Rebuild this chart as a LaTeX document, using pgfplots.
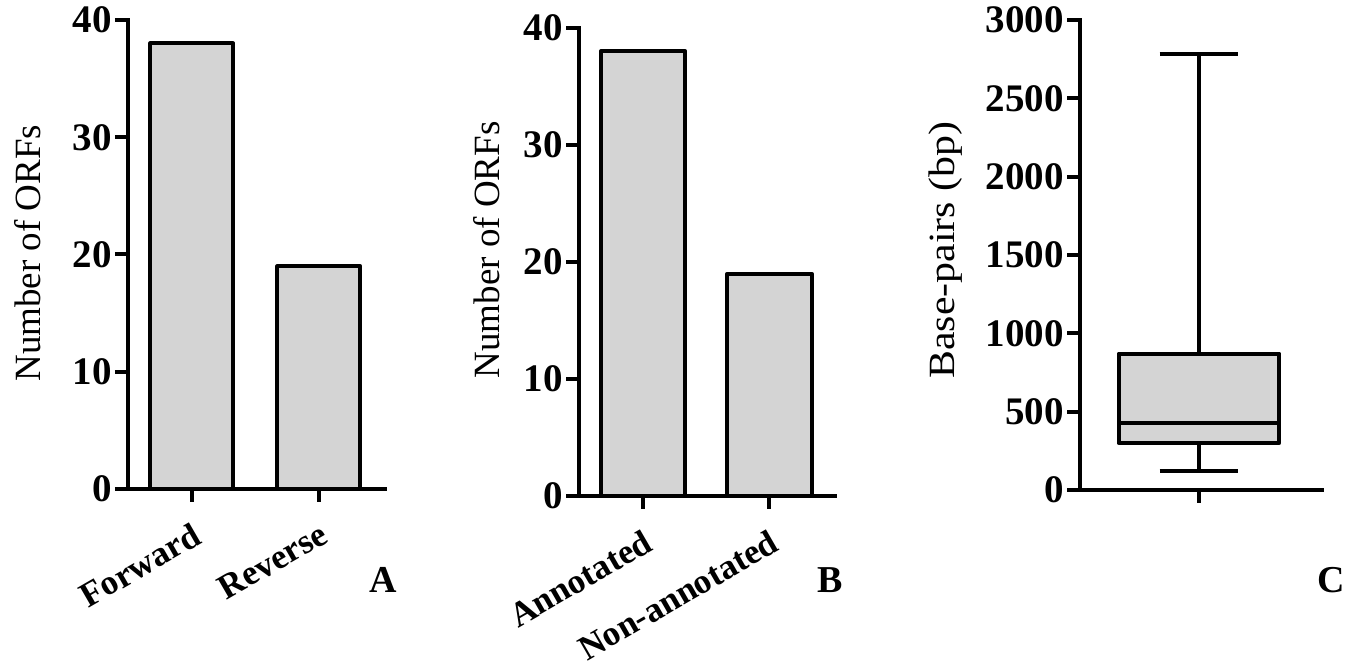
\documentclass[border=0pt]{standalone}
\usepackage{pgfplots}
\pgfplotsset{compat=1.18}
\usepackage{fontspec}
\setmainfont{Liberation Serif}
\definecolor{barfill}{RGB}{212,212,212}
\pgfplotsset{
  panel/.style={
    scale only axis, clip=false,
    axis x line*=bottom, axis y line*=left,
    axis line style={line width=2pt, line cap=rect},
    tick style={line width=2pt, black},
    tick align=outside, major tick length=6.5pt,
    /pgf/number format/assume math mode=true,
    /pgf/number format/1000 sep={},
    scaled ticks=false,
    yticklabel style={font=\bfseries\fontsize{19.5}{19.5}\selectfont, inner sep=1.5pt},
    xticklabel style={font=\bfseries\fontsize{17.5}{17.5}\selectfont, rotate=30, anchor=north east, inner sep=2pt, xshift=-3pt, yshift=-6pt},
    ylabel style={font=\fontsize{18.5}{18.5}\selectfont, anchor=center, rotate=0},
  }
}
\begin{document}
\begin{tikzpicture}
\useasboundingbox (0,0) rectangle (677.5pt,334pt);
% Panel A
\begin{axis}[panel, at={(64pt,89.5pt)}, anchor=south west, width=128.5pt, height=234.5pt,
  xmin=-0.5, xmax=1.52, ymin=0, ymax=40, ytick={0,10,20,30,40},
  xtick={0,1}, xticklabels={Forward,Reverse},
  ylabel={Number of ORFs}, ylabel style={at={(axis description cs:-0.389,0.503)}}]
\addplot[ybar, bar width=0.65, fill=barfill, draw=black, line width=2pt, line join=round] coordinates {(0,38) (1,19)};
\end{axis}
% Panel B
\begin{axis}[panel, at={(289.5pt,86pt)}, anchor=south west, width=128pt, height=234pt,
  xmin=-0.508, xmax=1.52, ymin=0, ymax=40, ytick={0,10,20,30,40},
  xtick={0,1}, xticklabels={Annotated,Non-annotated},
  ylabel={Number of ORFs}, ylabel style={at={(axis description cs:-0.359,0.526)}}]
\addplot[ybar, bar width=0.67, fill=barfill, draw=black, line width=2pt, line join=round] coordinates {(0,38) (1,19)};
\end{axis}
% Panel C
\begin{axis}[panel, at={(540pt,89pt)}, anchor=south west, width=121pt, height=235pt,
  xmin=0, xmax=2.034, ymin=0, ymax=3000, ytick={0,500,1000,1500,2000,2500,3000},
  xtick={1}, xticklabels={},
  ylabel={\scalebox{1.13}[1]{Base-pairs (bp)}}, ylabel style={at={(axis description cs:-0.554,0.51)}}]
% whiskers (min 120, max 2780)
\addplot[black, line width=2pt] coordinates {(1,870) (1,2780)};
\addplot[black, line width=2pt] coordinates {(0.67,2780) (1.33,2780)};
\addplot[black, line width=2pt] coordinates {(1,300) (1,120)};
\addplot[black, line width=2pt] coordinates {(0.67,120) (1.33,120)};
% box Q1=300, Q3=870
\addplot[fill=barfill, draw=black, line width=2pt, line join=round] coordinates {(0.325,300) (1.675,300) (1.675,870) (0.325,870)} -- cycle;
% median 430
\addplot[black, line width=2pt] coordinates {(0.325,430) (1.675,430)};
\end{axis}
\node[font=\bfseries\fontsize{19}{19}\selectfont] at (191.5pt,44pt) {A};
\node[font=\bfseries\fontsize{19}{19}\selectfont] at (415pt,44pt) {B};
\node[font=\bfseries\fontsize{19}{19}\selectfont] at (665.5pt,44pt) {C};
\end{tikzpicture}
\end{document}
